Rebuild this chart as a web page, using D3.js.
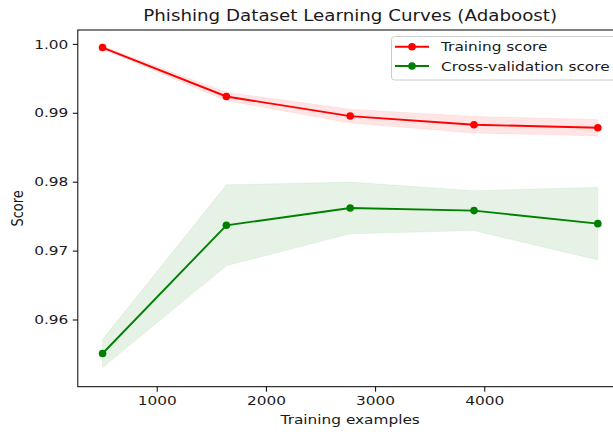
<!DOCTYPE html>
<html>
<head>
<meta charset="utf-8">
<script src="https://cdn.jsdelivr.net/npm/d3@7"></script>
<style>
  body { margin: 0; background: #fff; }
  text { font-family: "DejaVu Sans", sans-serif; fill: #1a1a1a; }
</style>
</head>
<body>
<svg id="chart" width="613" height="432"></svg>
<script>
// Learning-curve results: training set sizes, mean scores and standard deviations
const trainSizes = [504, 1638, 2772, 3906, 5040];
const trainMean  = [0.99946, 0.99236, 0.98952, 0.98826, 0.98783];
const trainStd   = [0.0002, 0.0006, 0.0010, 0.0012, 0.0012];
const cvMean     = [0.95507, 0.97367, 0.97619, 0.97580, 0.97391];
const cvStd      = [0.00205, 0.00587, 0.00375, 0.0029, 0.00527];
const xTickValues = [1000, 2000, 3000, 4000];
const yTickValues = [0.96, 0.97, 0.98, 0.99, 1.00];
const seriesNames = ["Training score", "Cross-validation score"];

const svg = d3.select("#chart");
const plot = { left: 77.8, top: 30, right: 622.6, bottom: 386.7 };
const fontSize = 13;
const stretch = 1.18;   // glyphs are drawn slightly wider than tall

// Widen a text element horizontally around its own anchor point
function widen(sel, sx) {
  sel.each(function () {
    const t = d3.select(this);
    const ax = +(t.attr("x") || 0);
    const prev = t.attr("transform") || "";
    t.attr("transform", `${prev} translate(${ax},0) scale(${sx},1) translate(${-ax},0)`);
  });
}

const x = d3.scaleLinear().domain([277.2, 5266.8]).range([plot.left, plot.right]);
const y = d3.scaleLinear().domain([0.95025, 1.00201]).range([plot.bottom, plot.top]);

svg.append("defs").append("clipPath").attr("id", "plotClip")
  .append("rect")
  .attr("x", plot.left).attr("y", plot.top)
  .attr("width", plot.right - plot.left).attr("height", plot.bottom - plot.top);

const series = [
  { name: seriesNames[0], mean: trainMean, std: trainStd, color: "#ff0000" },
  { name: seriesNames[1], mean: cvMean, std: cvStd, color: "#008000" }
];

const body = svg.append("g").attr("clip-path", "url(#plotClip)");

// Bands: mean ± one standard deviation
const band = d3.area()
  .x(d => x(d.size))
  .y0(d => y(d.mean - d.std))
  .y1(d => y(d.mean + d.std));

series.forEach(s => {
  const rows = trainSizes.map((size, i) => ({ size, mean: s.mean[i], std: s.std[i] }));
  body.append("path")
    .datum(rows)
    .attr("d", band)
    .attr("fill", s.color)
    .attr("fill-opacity", 0.1)
    .attr("stroke", s.color)
    .attr("stroke-opacity", 0.06)
    .attr("stroke-width", 1);
});

const line = d3.line().x(d => x(d.size)).y(d => y(d.mean));
series.forEach(s => {
  const rows = trainSizes.map((size, i) => ({ size, mean: s.mean[i] }));
  body.append("path")
    .datum(rows)
    .attr("d", line)
    .attr("fill", "none")
    .attr("stroke", s.color)
    .attr("stroke-width", 1.9);
  body.selectAll(null)
    .data(rows)
    .join("circle")
    .attr("cx", d => x(d.size))
    .attr("cy", d => y(d.mean))
    .attr("r", 3.8)
    .attr("fill", s.color);
});

// Axes
const xAxis = svg.append("g")
  .attr("transform", `translate(0,${plot.bottom})`)
  .call(d3.axisBottom(x).tickValues(xTickValues).tickFormat(d3.format("d")).tickSize(5).tickPadding(4.5));
const yAxis = svg.append("g")
  .attr("transform", `translate(${plot.left},0)`)
  .call(d3.axisLeft(y).tickValues(yTickValues).tickFormat(d3.format(".2f")).tickSize(5).tickPadding(4.5));

[xAxis, yAxis].forEach(g => {
  g.select(".domain").remove();
  g.selectAll(".tick line").attr("stroke", "#000").attr("stroke-width", 1);
  const labels = g.selectAll(".tick text")
    .attr("font-family", "DejaVu Sans, sans-serif")
    .attr("font-size", fontSize)
    .attr("fill", "#1a1a1a");
  widen(labels, stretch);
});

// Spines
svg.append("rect")
  .attr("x", plot.left).attr("y", plot.top)
  .attr("width", plot.right - plot.left).attr("height", plot.bottom - plot.top)
  .attr("fill", "none").attr("stroke", "#000").attr("stroke-width", 1);

// Title and axis labels
const title = svg.append("text")
  .attr("x", (plot.left + plot.right) / 2).attr("y", 21)
  .attr("text-anchor", "middle")
  .attr("font-size", 15.6)
  .text("Phishing Dataset Learning Curves (Adaboost)");
widen(title, 1.17);

const xLabel = svg.append("text")
  .attr("x", (plot.left + plot.right) / 2).attr("y", 424.5)
  .attr("text-anchor", "middle")
  .attr("font-size", fontSize)
  .text("Training examples");
widen(xLabel, stretch);

svg.append("text")
  .attr("transform", `translate(23,${(plot.top + plot.bottom) / 2}) rotate(-90) scale(1,${stretch})`)
  .attr("text-anchor", "middle")
  .attr("font-size", fontSize)
  .text("Score");

// Legend
const legend = svg.append("g").attr("transform", "translate(391.5,36.5)");
legend.append("rect")
  .attr("width", 226).attr("height", 43.5)
  .attr("rx", 3).attr("ry", 3)
  .attr("fill", "#fff").attr("fill-opacity", 0.8)
  .attr("stroke", "#cccccc").attr("stroke-width", 1);

series.forEach((s, i) => {
  const row = legend.append("g").attr("transform", `translate(0,${10.2 + i * 19.3})`);
  row.append("line")
    .attr("x1", 3.5).attr("x2", 37.5)
    .attr("stroke", s.color).attr("stroke-width", 1.9);
  row.append("circle")
    .attr("cx", 20.5).attr("r", 3.8).attr("fill", s.color);
  const label = row.append("text")
    .attr("x", 49.5).attr("dy", "0.35em")
    .attr("font-size", fontSize)
    .text(s.name);
  widen(label, stretch);
});
</script>
</body>
</html>
